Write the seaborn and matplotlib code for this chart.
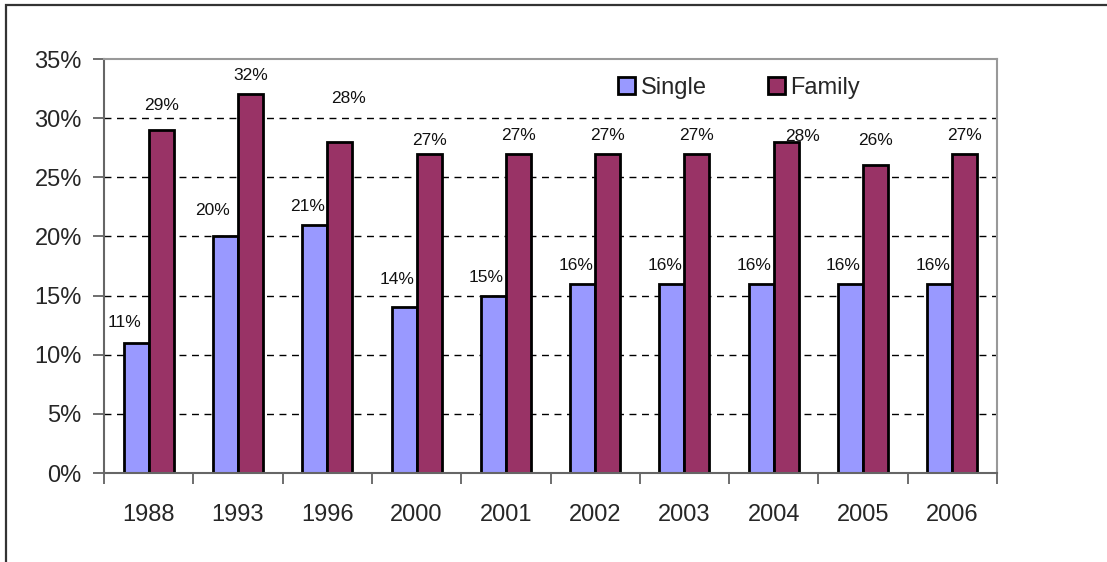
import numpy as np
import pandas as pd
import matplotlib
matplotlib.use('Agg')
import matplotlib.pyplot as plt
from matplotlib.patches import Rectangle
import seaborn as sns

# data
years = ['1988', '1993', '1996', '2000', '2001', '2002', '2003', '2004', '2005', '2006']
single = [11, 20, 21, 14, 15, 16, 16, 16, 16, 16]
family = [29, 32, 28, 27, 27, 27, 27, 28, 26, 27]
series = ['Single', 'Family']
colors = ['#9999FF', '#993366']

df = pd.DataFrame({
    'year': years * 2,
    'value': single + family,
    'type': ['Single'] * len(years) + ['Family'] * len(years),
})

sns.set_style('white')
plt.rcParams['font.family'] = ['Liberation Sans', 'DejaVu Sans']

fig = plt.figure(figsize=(11.07, 5.62), dpi=100)
ax = fig.add_axes([104 / 1107, 89 / 562, 893 / 1107, 414 / 562])

sns.barplot(data=df, x='year', y='value', hue='type', hue_order=series,
            palette=colors, edgecolor='black', linewidth=2, width=0.56,
            saturation=1, ax=ax)

# data labels, nudged a bit like the original Excel placement (pixels)
nudge = {
    ('Single', 0): (-12, 13), ('Single', 1): (-13, 18), ('Single', 3): (-7, 20),
    ('Family', 0): (0, 17), ('Family', 2): (9, 36), ('Family', 3): (0, 6),
    ('Family', 7): (16, -2), ('Family', 8): (0, 17),
}
for name, cont in zip(series, ax.containers):
    for i, bar in enumerate(cont.patches):
        dx, dy = nudge.get((name, i), (-7 if name == 'Single' else 0, 11))
        ax.annotate('{}%'.format(int(round(bar.get_height()))),
                    (bar.get_x() + bar.get_width() / 2, bar.get_height()),
                    xytext=(dx, dy), textcoords='offset pixels',
                    ha='center', va='bottom', fontsize=12.5, color='#111111')

ax.set_ylim(0, 35)
ax.set_xlim(-0.5, len(years) - 0.5)
ax.set_yticks(range(0, 36, 5))
ax.set_yticklabels(['{}%'.format(v) for v in range(0, 36, 5)])
ax.set_xlabel('')
ax.set_ylabel('')

# dashed gridlines
for v in range(5, 35, 5):
    ax.axhline(v, color='black', linestyle=(0, (5, 4)), linewidth=1, zorder=0)

# ticks: labels at centres, tick marks between categories
ax.set_xticks(np.arange(-0.5, len(years), 1.0), minor=True)
ax.tick_params(axis='x', which='major', length=0, pad=22, labelsize=17)
ax.tick_params(axis='x', which='minor', length=8, width=1.2, color='#555555', direction='out')
ax.tick_params(axis='y', length=8, width=1.2, color='#555555', direction='out', pad=8, labelsize=17)
ax.tick_params(left=True, bottom=True, which='both')

for s in ['left', 'bottom']:
    ax.spines[s].set_color('#666666')
    ax.spines[s].set_linewidth(1.5)
for s in ['top', 'right']:
    ax.spines[s].set_color('#999999')
    ax.spines[s].set_linewidth(1.5)

leg = ax.legend(loc='upper left', bbox_to_anchor=(0.552, 1.008), ncol=2,
                frameon=False, fontsize=17, handlelength=0.7, handleheight=0.7,
                handletextpad=0.25, columnspacing=2.6)
for h in leg.legend_handles:
    h.set_edgecolor('black')
    h.set_linewidth(2)

# outer chart border (only top and left visible in the crop)
fig.add_artist(Rectangle((6 / 1107, -0.1), 1.2, 1 - 5 / 562 + 0.1,
                         transform=fig.transFigure, fill=False,
                         edgecolor='#333333', linewidth=1.6))

fig.savefig('out.png', dpi=100)
